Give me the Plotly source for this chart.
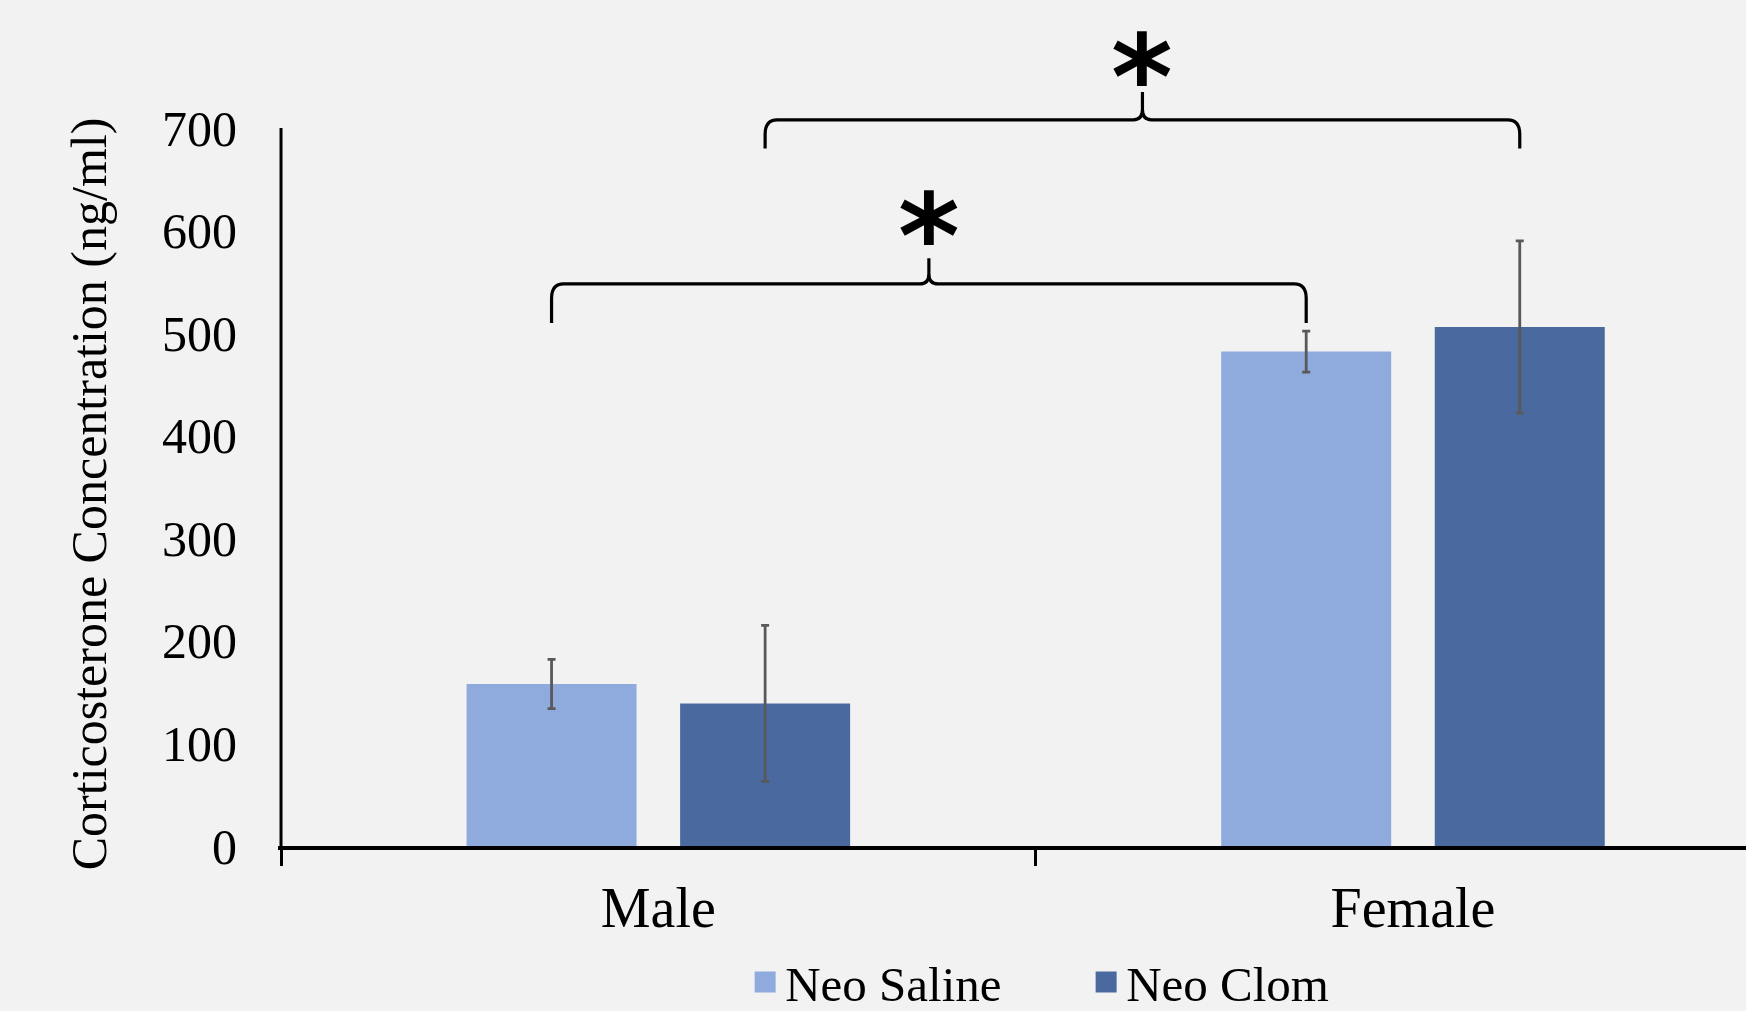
import plotly.graph_objects as go

# ---- data ----
categories = ["Male", "Female"]
series_names = ["Neo Saline", "Neo Clom"]
saline_values = [158, 482]
saline_errors = [24, 20]
clom_values = [139, 506]
clom_errors = [76, 84]
y_tick_values = [0, 100, 200, 300, 400, 500, 600, 700]
y_title = "Corticosterone Concentration (ng/ml)"

# significance brackets: (group index, series index) pairs, bracket levels
bracket_pairs = [((0, 0), (1, 0)), ((0, 1), (1, 1))]
bracket_levels = [548, 708]     # horizontal line
bracket_legs = [510, 680]       # bottom of legs
bracket_peaks = [573, 735]      # tip of central cusp
star_levels = [594, 749]

# ---- styles ----
COL_SALINE = "#8FAADC"
COL_CLOM = "#4A699F"
ERR_COL = "#595959"
BG = "#F2F2F2"
SERIF = "Liberation Serif"
BARGAP = 0.434
BARGROUPGAP = 0.204
colors = [COL_SALINE, COL_CLOM]

fig = go.Figure()
for name, vals, errs, col in zip(series_names, [saline_values, clom_values],
                                 [saline_errors, clom_errors], colors):
    fig.add_trace(go.Bar(
        name=name, x=categories, y=vals, legendgroup=name, showlegend=False,
        marker=dict(color=col, line=dict(width=0)),
        error_y=dict(type="data", array=errs, color=ERR_COL, thickness=2.8, width=4),
    ))
# legend entries (larger square swatches than the default bar swatch)
for name, col in zip(series_names, colors):
    fig.add_trace(go.Scatter(
        name=name, x=[None], y=[None], mode="markers", legendgroup=name,
        marker=dict(symbol="square", size=16, color=col, line=dict(color=col, width=5)),
        hoverinfo="skip",
    ))

# bar centre offsets within a group (plotly grouped-bar geometry)
slot = (1 - BARGAP) / 2
offsets = [-slot / 2, slot / 2]

shapes = []
# y axis line from 0 to 700 only
shapes.append(dict(type="line", xref="x", yref="y", x0=-0.5, x1=-0.5,
                   y0=0, y1=y_tick_values[-1], line=dict(color="black", width=3),
                   layer="above"))

annotations = []
for (a, b), yh, yl, yp, ys in zip(bracket_pairs, bracket_levels, bracket_legs,
                                  bracket_peaks, star_levels):
    xl = a[0] + offsets[a[1]]
    xr = b[0] + offsets[b[1]]
    xm = (xl + xr) / 2
    dx = 0.016   # corner curvature (x units)
    dy = 14      # corner curvature (y units)
    cx = 0.012   # cusp curvature
    cy = 10
    path = (f"M {xl},{yl} L {xl},{yh - dy} Q {xl},{yh} {xl + dx},{yh} "
            f"L {xm - cx},{yh} Q {xm},{yh} {xm},{yh + cy} L {xm},{yp} "
            f"L {xm},{yh + cy} Q {xm},{yh} {xm + cx},{yh} "
            f"L {xr - dx},{yh} Q {xr},{yh} {xr},{yh - dy} L {xr},{yl}")
    shapes.append(dict(type="path", xref="x", yref="y", path=path,
                       line=dict(color="black", width=3.2)))
    annotations.append(dict(x=xm, y=ys, xref="x", yref="y", text="*",
                            showarrow=False, xanchor="center", yanchor="middle",
                            font=dict(family="DejaVu Sans", size=118,
                                      color="black", weight="bold")))

# y-axis title, centred alongside the 0-700 axis line
annotations.append(dict(x=-0.1287, y=y_tick_values[-1] / 2 - 7, xref="paper", yref="y",
                        text=y_title, textangle=-90, showarrow=False,
                        xanchor="center", yanchor="middle",
                        font=dict(family=SERIF, size=50, color="black")))

fig.update_layout(
    width=1746, height=1011,
    margin=dict(l=278, r=0, t=0, b=165, pad=0, autoexpand=False),
    paper_bgcolor=BG, plot_bgcolor=BG,
    barmode="group", bargap=BARGAP, bargroupgap=BARGROUPGAP,
    font=dict(family=SERIF, color="black"),
    showlegend=True,
    legend=dict(orientation="h", x=0.5505, xanchor="center", y=-0.1608,
                yanchor="middle", font=dict(family=SERIF, size=49, color="black"),
                bgcolor="rgba(0,0,0,0)", entrywidth=296, entrywidthmode="pixels",
                itemsizing="trace"),
    shapes=shapes,
    annotations=annotations,
)
fig.update_xaxes(
    type="category", range=[-0.504, 1.4413],
    showline=True, linecolor="black", linewidth=4,
    ticks="outside", tickson="boundaries", ticklen=16, tickwidth=3, tickcolor="black",
    tickfont=dict(family=SERIF, size=56, color="black"),
    ticklabelstandoff=10, showgrid=False, zeroline=False,
)
fig.update_yaxes(
    range=[0, 824.8], tickvals=y_tick_values,
    showline=False, ticks="", showgrid=False, zeroline=False,
    tickfont=dict(family=SERIF, size=50, color="black"),
    ticklabelstandoff=40, automargin=False,
)

fig.write_html("out.html", config={"displayModeBar": False},
               post_script="document.body.style.margin='0';")
